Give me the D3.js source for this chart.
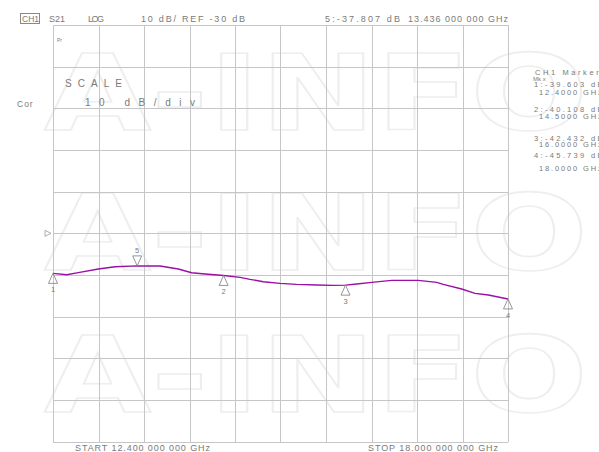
<!DOCTYPE html>
<html><head><meta charset="utf-8">
<script src="https://cdn.jsdelivr.net/npm/d3@7"></script>
<style>
html,body{margin:0;padding:0;background:#fff;}
svg{display:block;}
text{font-family:"Liberation Sans",Arial,sans-serif;fill:#7a7a7a;}
</style></head>
<body>
<svg id="c" width="599" height="452"></svg>
<script>
// ---- data ----
const traceFreq = [12.40,12.569,12.711,12.958,13.163,13.436,13.717,13.942,14.107,14.271,14.50,14.702,14.825,14.988,15.194,15.399,15.646,15.850,16.00,16.138,16.323,16.569,16.896,17.123,17.204,17.430,17.594,17.758,18.00];
const traceDb   = [-39.60,-39.95,-39.44,-38.56,-38.00,-37.81,-37.84,-38.56,-39.44,-39.76,-40.11,-40.56,-41.04,-41.60,-42.00,-42.24,-42.40,-42.48,-42.43,-42.16,-41.76,-41.28,-41.28,-41.76,-42.24,-43.36,-44.40,-44.80,-45.74];
const markerIds  = ["1","2","3","4","5"];
const markerFreq = [12.4,14.5,16.0,18.0,13.436];
const markerDb   = [-39.603,-40.108,-42.432,-45.739,-37.807];
const markerDir  = ["up","up","up","up","down"];
const freqRange  = [12.4,18.0];
const dbRange    = [-80,20];
const refLevel   = -30;
const headerTexts = ["S21","LOG","10 dB/ REF -30 dB","5:-37.807 dB","13.436 000 000 GHz"];
const sideLines = ["1:-39.603 dB","12.4000 GHz","2:-40.108 dB","14.5000 GHz","3:-42.432 dB","16.0000 GHz","4:-45.739 dB","18.0000 GHz"];
const startLabel = "START 12.400 000 000 GHz";
const stopLabel  = "STOP 18.000 000 000 GHz";

// ---- drawing ----
const svg = d3.select("#c");
const x = d3.scaleLinear().domain(freqRange).range([53,508]);
const y = d3.scaleLinear().domain(dbRange).range([441.7,25]);

// watermark
const wm = svg.append("g");
[130,270,412].forEach(b=>{
  wm.append("text").attr("x",44).attr("y",b).text("A-INFO")
    .attr("textLength",544).attr("lengthAdjust","spacingAndGlyphs")
    .style("font-family","'DejaVu Sans',sans-serif").style("font-weight","bold").style("font-size","105px")
    .style("fill","none").style("stroke","#eeeeee").style("stroke-width",1.6);
});

// grid
const grid = svg.append("g").attr("stroke","#c6c6c6").attr("stroke-width",1).attr("shape-rendering","crispEdges");
const xt = d3.range(11).map(i=>freqRange[0]+i*(freqRange[1]-freqRange[0])/10);
const yt = d3.range(11).map(i=>dbRange[0]+i*10);
grid.selectAll("line.v").data(xt).join("line").attr("class","v")
  .attr("x1",d=>Math.round(x(d))+0.5).attr("x2",d=>Math.round(x(d))+0.5).attr("y1",y(dbRange[1])).attr("y2",y(dbRange[0]));
grid.selectAll("line.h").data(yt).join("line").attr("class","h")
  .attr("y1",d=>Math.round(y(d))+0.5).attr("y2",d=>Math.round(y(d))+0.5).attr("x1",x(freqRange[0])).attr("x2",x(freqRange[1]));

// reference marker
const ry = y(refLevel);
svg.append("path").attr("d",`M45,${ry-3}L51,${ry}L45,${ry+3}Z`).attr("fill","none").attr("stroke","#999").attr("stroke-width",0.8);

// trace
const line = d3.line().x((d,i)=>x(traceFreq[i])).y(d=>y(d));
svg.append("path").datum(traceDb).attr("d",line).attr("fill","none").attr("stroke","#9b0fa5").attr("stroke-width",1.4);

// markers
const mg = svg.append("g");
markerIds.forEach((id,i)=>{
  const mx = x(markerFreq[i]), my = y(markerDb[i]);
  if(markerDir[i]==="up"){
    mg.append("path").attr("d",`M${mx},${my}L${mx-4.5},${my+10}L${mx+4.5},${my+10}Z`).attr("fill","none").attr("stroke","#8a8a8a").attr("stroke-width",0.9);
    mg.append("text").attr("x",mx).attr("y",my+19).attr("text-anchor","middle").style("font-size","7.5px").text(id);
  } else {
    mg.append("path").attr("d",`M${mx},${my}L${mx-4.5},${my-10}L${mx+4.5},${my-10}Z`).attr("fill","none").attr("stroke","#8a8a8a").attr("stroke-width",0.9);
    mg.append("text").attr("x",mx).attr("y",my-12.5).attr("text-anchor","middle").style("font-size","7.5px").text(id);
  }
});

// header
svg.append("rect").attr("x",20.5).attr("y",13.5).attr("width",19).attr("height",10).attr("fill","none").attr("stroke","#888");
svg.append("text").attr("x",22).attr("y",22).style("font-size","8.5px").text("CH1");
const hx = [49,88,141,325,408], hw=[16,16,104,75,100];
headerTexts.forEach((t,i)=>{
  svg.append("text").attr("x",hx[i]).attr("y",22).attr("textLength",hw[i]).attr("lengthAdjust","spacing").style("font-size","9px").text(t);
});

// small glyph
svg.append("text").attr("x",57).attr("y",42).style("font-size","5px").text("Pr");

// scale
svg.append("text").attr("x",65).attr("y",87).attr("textLength",57).attr("lengthAdjust","spacing").style("font-size","10px").text("SCALE");
svg.append("text").attr("x",85).attr("y",106).attr("textLength",110).attr("lengthAdjust","spacing").style("font-size","10px").text("10  dB/div");
svg.append("text").attr("x",17).attr("y",107).style("font-size","8.5px").attr("letter-spacing","1px").text("Cor");

// side panel
svg.append("text").attr("x",535).attr("y",75).attr("textLength",70).attr("lengthAdjust","spacing").style("font-size","7.5px").text("CH1 Markers");
svg.append("text").attr("x",533).attr("y",81).style("font-size","6px").text("Mk x");
const sy = [87,95,112,119,141,147,158,171], sxx=[534,539,534,539,534,539,534,539];
sideLines.forEach((t,i)=>{
  svg.append("text").attr("x",sxx[i]).attr("y",sy[i]).attr("textLength",t.length*5.7).attr("lengthAdjust","spacing").style("font-size","7.5px").text(t);
});

// bottom
svg.append("text").attr("x",75).attr("y",451).attr("textLength",135).attr("lengthAdjust","spacing").style("font-size","9px").text(startLabel);
svg.append("text").attr("x",368).attr("y",451).attr("textLength",130).attr("lengthAdjust","spacing").style("font-size","9px").text(stopLabel);
</script>
</body></html>
